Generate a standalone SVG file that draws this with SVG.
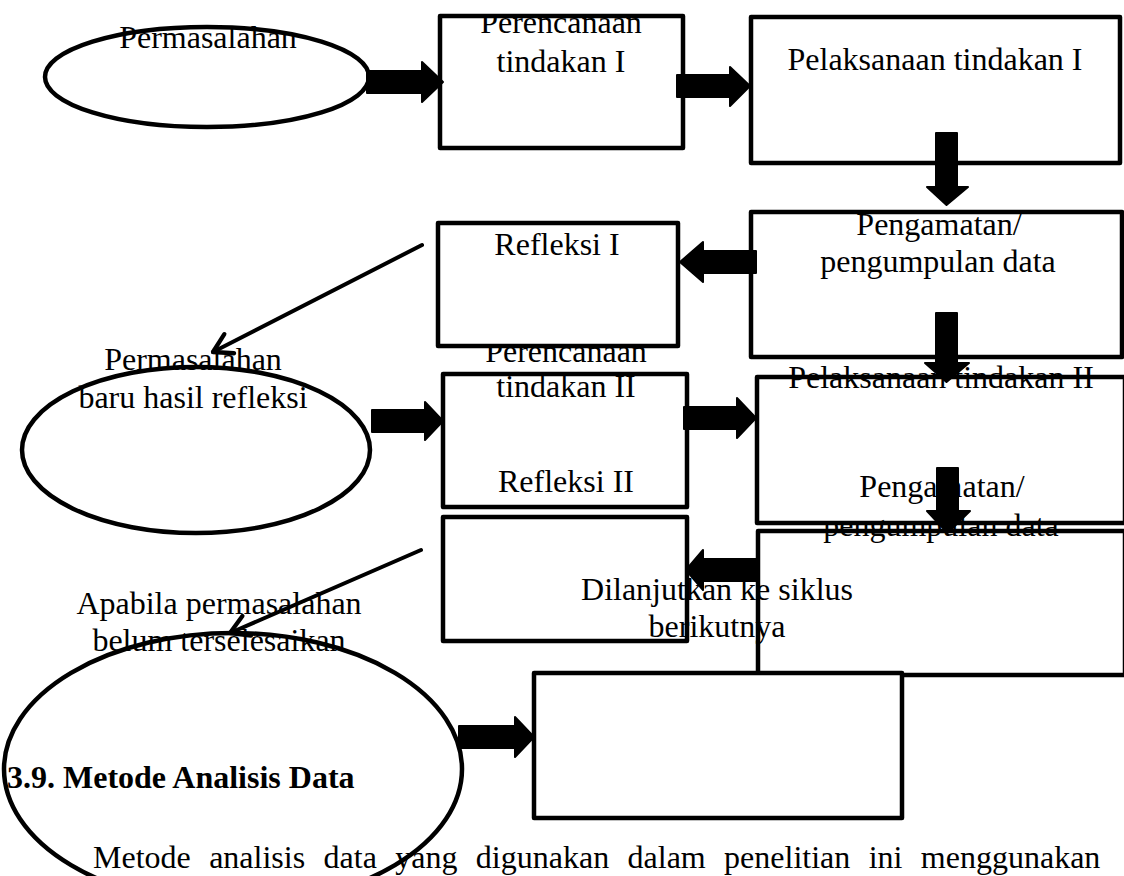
<svg xmlns="http://www.w3.org/2000/svg" width="1124" height="876" viewBox="0 0 1124 876">
<style>
.box{fill:#fff;stroke:#000;stroke-width:4.5;stroke-linejoin:round}
.ell{fill:none;stroke:#000;stroke-width:4.5}
.t{font-family:"Liberation Serif","Times New Roman",serif;font-size:32px;fill:#000;text-anchor:middle}
.blk{fill:#000;stroke:#000;stroke-width:2;stroke-linejoin:round}
.ln{fill:none;stroke:#000;stroke-width:4;stroke-linecap:round}
</style>
<defs>
<marker id="open" markerUnits="userSpaceOnUse" markerWidth="30" markerHeight="30" viewBox="-22 -14 26 28" refX="0" refY="0" orient="auto">
<path d="M-17,-10 L0,0 L-17,10" fill="none" stroke="#000" stroke-width="4" stroke-linecap="round" stroke-linejoin="round"/>
</marker>
<clipPath id="c1"><rect x="0" y="16" width="1124" height="200"/></clipPath>
<clipPath id="c2"><rect x="0" y="347" width="1124" height="200"/></clipPath>
</defs>
<rect width="1124" height="876" fill="#fff"/>

<g id="n-permasalahan">
<ellipse class="ell" cx="207" cy="77" rx="162" ry="50"/>
<text class="t" x="208" y="48">Permasalahan</text>
</g>
<g id="n-perencanaan1">
<rect class="box" x="440" y="16" width="243" height="132"/>
<text class="t" x="561" y="33" clip-path="url(#c1)">Perencanaan</text>
<text class="t" x="561" y="72">tindakan I</text>
</g>
<g id="n-pelaksanaan1">
<rect class="box" x="751" y="17" width="369" height="146"/>
<text class="t" x="935" y="70">Pelaksanaan tindakan I</text>
</g>
<g id="n-pengamatan1">
<rect class="box" x="751" y="212" width="371" height="145"/>
<text class="t" x="939" y="235">Pengamatan/</text>
<text class="t" x="938" y="272">pengumpulan data</text>
</g>
<g id="n-refleksi1">
<rect class="box" x="438" y="223" width="240" height="123"/>
<text class="t" x="557" y="255">Refleksi I</text>
</g>
<g id="n-permasalahan2">
<ellipse class="ell" cx="196" cy="450" rx="174" ry="83"/>
<text class="t" x="193" y="370">Permasalahan</text>
<text class="t" x="193" y="408">baru hasil refleksi</text>
</g>
<g id="n-perencanaan2">
<rect class="box" x="443" y="374" width="244" height="133"/>
<text class="t" x="566" y="362" clip-path="url(#c2)">Perencanaan</text>
<text class="t" x="566" y="397">tindakan II</text>
<text class="t" x="566" y="492">Refleksi II</text>
</g>
<g id="n-pelaksanaan2">
<rect class="box" x="757" y="377" width="368" height="146"/>
<text class="t" x="941" y="388">Pelaksanaan tindakan II</text>
</g>
<g id="n-pengamatan2">
<rect class="box" x="758" y="531" width="367" height="144"/>
<text class="t" x="942" y="497">Pengamatan/</text>
<text class="t" x="941" y="536">pengumpulan data</text>
</g>
<g id="n-refleksi2">
<rect class="box" x="443" y="517" width="244" height="124"/>
<text class="t" x="717" y="600">Dilanjutkan ke siklus</text>
<text class="t" x="717" y="637">berikutnya</text>
</g>
<g id="n-siklus">
<rect class="box" x="534" y="673" width="368" height="145"/>
</g>
<g id="n-apabila">
<ellipse class="ell" cx="233" cy="769" rx="229" ry="136"/>
<text class="t" x="219" y="614">Apabila permasalahan</text>
<text class="t" x="219" y="651">belum terselesaikan</text>
</g>

<g id="connectors">
<path class="blk" d="M367,71 H422 V62 L443,82 L422,102 V93 H367 Z"/>
<path class="blk" d="M677,75 H730 V67 L750,86 L730,106 V97 H677 Z"/>
<path class="blk" d="M936,133 H957 V187 H968 L946.5,205 L927,187 H936 Z"/>
<path class="blk" d="M756,251 H703 V242 L680,262 L703,282 V273 H756 Z"/>
<path class="blk" d="M936,313 H957 V363 H969 L946.5,382 L925,363 H936 Z"/>
<path class="blk" d="M372,410 H425 V402 L443,421 L425,440 V432 H372 Z"/>
<path class="blk" d="M684,407 H737 V398 L756,418 L737,438 V429 H684 Z"/>
<path class="blk" d="M937,468 H958 V511 H970 L947.5,533 L927,511 H937 Z"/>
<path class="blk" d="M758,559 H703 V550 L686,570 L703,590 V581 H758 Z"/>
<path class="blk" d="M459,726 H515 V717 L534,737 L515,757 V748 H459 Z"/>
<line class="ln" x1="422" y1="245" x2="213" y2="352" marker-end="url(#open)"/>
<line class="ln" x1="421" y1="550" x2="230" y2="633" marker-end="url(#open)"/>
</g>

<text x="7" y="788" font-family="Liberation Serif, Times New Roman, serif" font-size="32" font-weight="bold">3.9. Metode Analisis Data</text>
<text x="93" y="868" font-family="Liberation Serif, Times New Roman, serif" font-size="32" word-spacing="10.4">Metode analisis data yang digunakan dalam penelitian ini menggunakan</text>
</svg>
